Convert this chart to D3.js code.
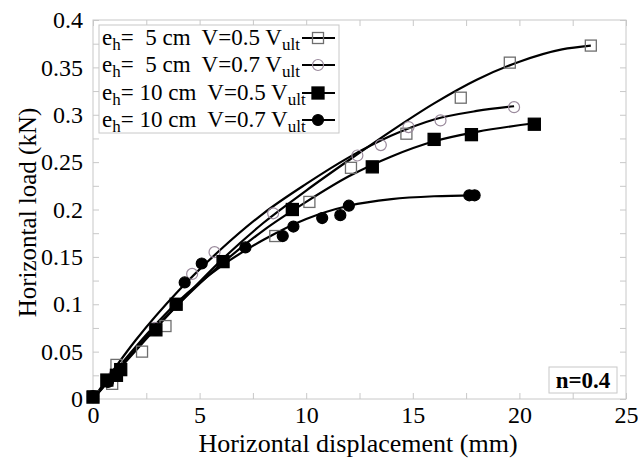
<!DOCTYPE html>
<html>
<head>
<meta charset="utf-8">
<script src="https://cdn.jsdelivr.net/npm/d3@7"></script>
<style>
  html, body { margin: 0; padding: 0; background: #fff; }
  svg { display: block; font-family: "Liberation Serif", "Times New Roman", serif; }
</style>
</head>
<body>
<svg id="chart" width="638" height="460"></svg>
<script>
// ---------- data ----------
const xTicks = [0, 5, 10, 15, 20, 25];
const yTicks = [0, 0.05, 0.1, 0.15, 0.2, 0.25, 0.3, 0.35, 0.4];

// e_h = 5 cm, V = 0.5 Vult (open squares)
const s1X = [0, 0.9, 1.1, 2.3, 3.4, 8.55, 10.15, 12.1, 14.7, 17.25, 19.55, 23.35];
const s1Y = [0.003, 0.016, 0.036, 0.05, 0.077, 0.172, 0.208, 0.244, 0.28, 0.318, 0.355, 0.373];
const fit1X = [0, 2, 4, 6, 8, 10, 12, 14, 16, 18, 20, 22, 23.35];
const fit1Y = [0, 0.051, 0.1, 0.146, 0.186, 0.22, 0.252, 0.283, 0.312, 0.337, 0.356, 0.369, 0.373];

// e_h = 5 cm, V = 0.7 Vult (open circles)
const s2X = [0, 1.0, 2.9, 4.65, 5.7, 8.45, 12.4, 13.5, 14.8, 16.3, 19.75];
const s2Y = [0.002, 0.025, 0.075, 0.132, 0.155, 0.196, 0.257, 0.268, 0.287, 0.294, 0.308];
const fit2X = [0, 2, 4, 6, 8, 10, 12, 14, 16, 18, 19.75];
const fit2Y = [0, 0.062, 0.114, 0.158, 0.196, 0.227, 0.255, 0.278, 0.295, 0.304, 0.309];

// e_h = 10 cm, V = 0.5 Vult (filled squares)
const s3X = [0, 0.65, 1.1, 1.3, 2.95, 3.9, 6.1, 9.35, 13.1, 16.0, 17.75, 20.7];
const s3Y = [0.002, 0.02, 0.025, 0.031, 0.073, 0.1, 0.145, 0.2, 0.245, 0.274, 0.279, 0.29];
const fit3X = [0, 2, 4, 6, 8, 10, 12, 14, 16, 18, 20.7];
const fit3Y = [0, 0.053, 0.1, 0.142, 0.178, 0.208, 0.235, 0.256, 0.272, 0.282, 0.291];

// e_h = 10 cm, V = 0.7 Vult (filled circles)
const s4X = [0, 0.7, 1.1, 2.95, 3.9, 4.3, 5.1, 7.15, 8.9, 9.4, 10.75, 11.6, 12.0, 17.65, 17.9];
const s4Y = [0.003, 0.018, 0.026, 0.073, 0.1, 0.123, 0.143, 0.16, 0.172, 0.182, 0.191, 0.194, 0.204, 0.215, 0.215];
const fit4X = [0, 2, 4, 6, 8, 10, 12, 14, 16, 17.9];
const fit4Y = [0, 0.055, 0.103, 0.14, 0.168, 0.19, 0.204, 0.211, 0.214, 0.215];

const legendSize = ["5", "5", "10", "10"];
const legendV = ["0.5", "0.7", "0.5", "0.7"];

// ---------- layout ----------
const W = 638, H = 460;
const m = { left: 93, right: 12, top: 20, bottom: 61 };
const svg = d3.select("#chart");
const x = d3.scaleLinear().domain([0, 25]).range([m.left, W - m.right]);
const y = d3.scaleLinear().domain([0, 0.4]).range([H - m.bottom, m.top]);

const gridCol = "#c8c8c8";
const fmtY = d => (d === 0 ? "0" : String(+d.toFixed(3)));

// frame
svg.append("rect")
  .attr("x", x(0)).attr("y", y(0.4))
  .attr("width", x(25) - x(0)).attr("height", y(0) - y(0.4))
  .attr("fill", "none").attr("stroke", gridCol).attr("stroke-width", 1);

const xAll = d3.range(0, 25.01, 2.5);
const yAll = d3.range(0, 0.4001, 0.025);

function styleAxis(g) {
  g.select(".domain").remove();
  g.selectAll(".tick line").attr("stroke", gridCol);
  g.selectAll(".tick text").attr("fill", "#000");
}

// bottom axis
svg.append("g").attr("transform", `translate(0,${y(0)})`)
  .call(d3.axisBottom(x).tickValues(xAll)
    .tickFormat(d => (xTicks.includes(d) ? d : ""))
    .tickSizeInner(-6).tickPadding(7))
  .call(styleAxis)
  .call(g => g.selectAll(".tick text").attr("font-size", 24).attr("font-family", "Liberation Serif"));

// top axis (mirrored ticks)
svg.append("g").attr("transform", `translate(0,${y(0.4)})`)
  .call(d3.axisTop(x).tickValues(xAll).tickFormat("").tickSizeInner(-6))
  .call(styleAxis);

// left axis
svg.append("g").attr("transform", `translate(${x(0)},0)`)
  .call(d3.axisLeft(y).tickValues(yAll)
    .tickFormat(d => (yTicks.some(t => Math.abs(t - d) < 1e-9) ? fmtY(d) : ""))
    .tickSizeInner(-6).tickPadding(10))
  .call(styleAxis)
  .call(g => g.selectAll(".tick text").attr("font-size", 24).attr("font-family", "Liberation Serif"));

// right axis
svg.append("g").attr("transform", `translate(${x(25)},0)`)
  .call(d3.axisRight(y).tickValues(yAll).tickFormat("").tickSizeInner(-6))
  .call(styleAxis);

// axis titles
svg.append("text")
  .attr("x", 358).attr("y", 452)
  .attr("text-anchor", "middle").attr("font-size", 26)
  .text("Horizontal displacement (mm)");
svg.append("text")
  .attr("transform", `translate(36,${(y(0) + y(0.4)) / 2 + 3}) rotate(-90)`)
  .attr("text-anchor", "middle").attr("font-size", 25)
  .text("Horizontal load (kN)");

// ---------- curves ----------
const line = d3.line().x(d => x(d[0])).y(d => y(d[1])).curve(d3.curveMonotoneX);
const fits = [[fit1X, fit1Y], [fit2X, fit2Y], [fit3X, fit3Y], [fit4X, fit4Y]];
fits.forEach(([fx, fy]) => {
  svg.append("path")
    .datum(fx.map((v, i) => [v, fy[i]]))
    .attr("d", line)
    .attr("fill", "none").attr("stroke", "#000").attr("stroke-width", 2.2);
});

// ---------- markers ----------
const styles = [
  { type: "square", fill: "none", stroke: "#6e6e6e" },
  { type: "circle", fill: "none", stroke: "#9a8a9c" },
  { type: "square", fill: "#000", stroke: "#000" },
  { type: "circle", fill: "#000", stroke: "#000" }
];
function drawMarker(g, st, cx, cy) {
  if (st.type === "square") {
    const s = st.fill === "none" ? 11 : 12;
    g.append("rect").attr("x", cx - s / 2).attr("y", cy - s / 2)
      .attr("width", s).attr("height", s)
      .attr("fill", st.fill).attr("stroke", st.stroke).attr("stroke-width", 1.3);
  } else {
    g.append("circle").attr("cx", cx).attr("cy", cy).attr("r", 5.5)
      .attr("fill", st.fill).attr("stroke", st.stroke).attr("stroke-width", 1.2);
  }
}
const series = [[s1X, s1Y], [s2X, s2Y], [s3X, s3Y], [s4X, s4Y]];
const mg = svg.append("g");
series.forEach(([sx, sy], k) => {
  sx.forEach((v, i) => drawMarker(mg, styles[k], x(v), y(sy[i])));
});

// ---------- legend ----------
const lg = svg.append("g");
lg.append("rect").attr("x", 99).attr("y", 25).attr("width", 240).attr("height", 108)
  .attr("fill", "#fff").attr("stroke", gridCol).attr("stroke-width", 1);
const rowY = [38, 65, 93, 120];
legendSize.forEach((sz, i) => {
  const t = lg.append("text").attr("x", 102).attr("y", rowY[i] + 7)
    .attr("font-size", 23).style("white-space", "pre");
  t.append("tspan").text("e");
  t.append("tspan").attr("font-size", 17).attr("dy", 5).text("h");
  t.append("tspan").attr("dy", -5).text((sz.length === 1 ? "=  " : "= ") + sz + " cm  V=" + legendV[i] + " V");
  t.append("tspan").attr("font-size", 17).attr("dy", 5).text("ult");
  lg.append("line").attr("x1", 302).attr("x2", 335).attr("y1", rowY[i]).attr("y2", rowY[i])
    .attr("stroke", "#000").attr("stroke-width", 2);
  drawMarker(lg, styles[i], 318, rowY[i]);
});

// ---------- n = 0.4 box ----------
svg.append("rect").attr("x", 549).attr("y", 367).attr("width", 68).attr("height", 26)
  .attr("fill", "#fff").attr("stroke", gridCol);
svg.append("text").attr("x", 583).attr("y", 388).attr("text-anchor", "middle")
  .attr("font-size", 23).attr("font-weight", "bold").text("n=0.4");
</script>
</body>
</html>
